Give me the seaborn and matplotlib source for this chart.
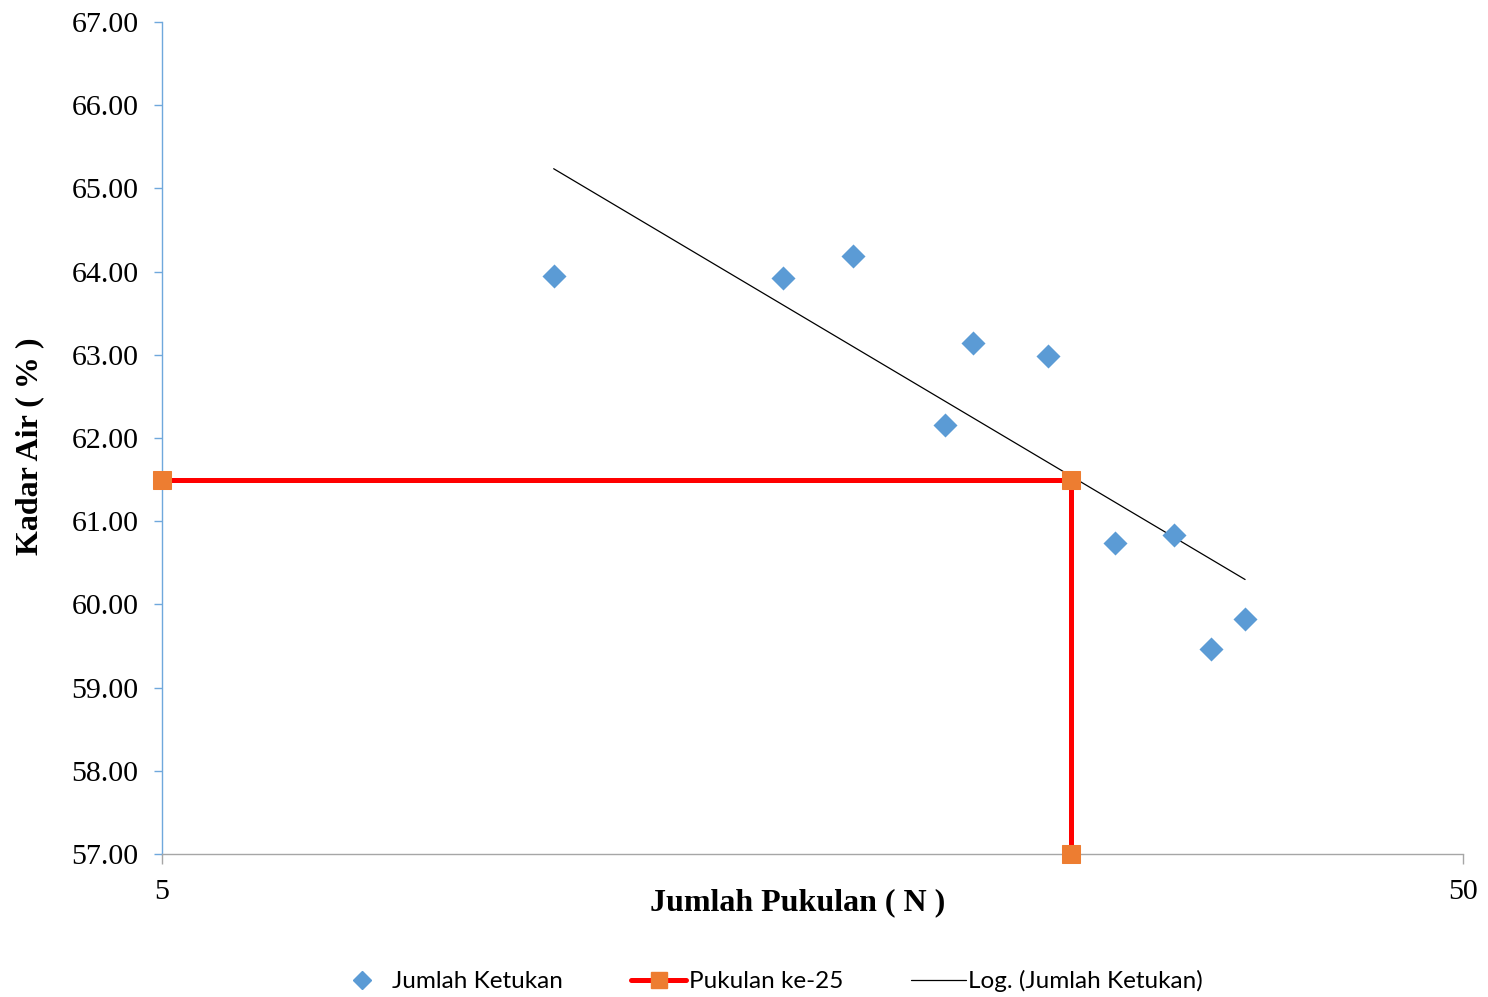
import numpy as np
import pandas as pd
import matplotlib
matplotlib.use("Agg")
import matplotlib.pyplot as plt
from matplotlib.lines import Line2D
from matplotlib.ticker import FixedLocator, FixedFormatter, NullLocator
import seaborn as sns

# Liquid limit test: blow count vs. water content
blows = [10, 15, 17, 20, 21, 24, 27, 30, 32, 34]
water_content = [63.95, 63.92, 64.19, 62.16, 63.14, 62.99, 60.74, 60.83, 59.46, 59.82]

# Reading at the 25th blow
ref_x = [5, 25, 25]
ref_y = [61.50, 61.50, 57.00]

y_ticks = [57, 58, 59, 60, 61, 62, 63, 64, 65, 66, 67]
x_ticks = [5, 50]

sns.set_theme(style="white")
plt.rcParams["font.family"] = ["Liberation Serif", "DejaVu Serif"]
plt.rcParams["text.color"] = "black"
plt.rcParams["axes.labelcolor"] = "black"

fig = plt.figure(figsize=(14.88, 9.97), dpi=100)
ax = fig.add_axes([0.1089, 0.1434, 0.8743, 0.8345])

df = pd.DataFrame({"N": blows, "w": water_content})

# logarithmic trend line: w = a*ln(N) + b
a, b = np.polyfit(np.log(df["N"]), df["w"], 1)
n_fit = np.linspace(min(blows), max(blows), 100)
fit = pd.DataFrame({"N": n_fit, "w": a * np.log(n_fit) + b})

sns.lineplot(data=fit, x="N", y="w", color="black", linewidth=0.9, ax=ax,
             zorder=3)

ref = pd.DataFrame({"N": ref_x, "w": ref_y})
sns.lineplot(data=ref, x="N", y="w", sort=False, estimator=None,
             color="#FF0000", linewidth=3.6,
             marker="s", markersize=13, markerfacecolor="#ED7D31",
             markeredgecolor="#ED7D31", ax=ax, zorder=4, clip_on=False)

sns.scatterplot(data=df, x="N", y="w", marker="D", s=150, color="#5B9BD5",
                edgecolor="#5B9BD5", linewidth=0, ax=ax, zorder=5)

ax.set_xscale("log")
ax.set_xlim(5, 50)
ax.set_ylim(57, 67)
ax.xaxis.set_major_locator(FixedLocator(x_ticks))
ax.xaxis.set_major_formatter(FixedFormatter([str(t) for t in x_ticks]))
ax.xaxis.set_minor_locator(NullLocator())
ax.set_yticks(y_ticks)
ax.set_yticklabels([f"{t:.2f}" for t in y_ticks])

for side in ["top", "right"]:
    ax.spines[side].set_visible(False)
ax.spines["left"].set_color("#6FA8DC")
ax.spines["left"].set_linewidth(1.0)
ax.spines["bottom"].set_color("#A6A6A6")
ax.spines["bottom"].set_linewidth(1.0)

ax.tick_params(axis="y", which="major", left=True, length=6, width=1.0,
               color="#6FA8DC", pad=11, labelsize=21.5, labelcolor="black")
ax.tick_params(axis="x", which="major", bottom=True, length=7, width=1.0,
               color="#A6A6A6", pad=11, labelsize=21.5, labelcolor="black")

ax.set_xlabel("Jumlah Pukulan ( N )", fontsize=23, fontweight="bold", color="black")
ax.set_ylabel("Kadar Air ( % )", fontsize=23, fontweight="bold", color="black")
ax.xaxis.set_label_coords(0.4889, -0.041)
ax.yaxis.set_label_coords(-0.0902, 0.4904)

handles = [
    Line2D([], [], linestyle="none", marker="D", markersize=9,
           color="#5B9BD5"),
    Line2D([], [], color="#FF0000", linewidth=3.6, marker="s", markersize=12,
           markerfacecolor="#ED7D31", markeredgecolor="#ED7D31"),
    Line2D([], [], color="black", linewidth=0.9),
]
labels = ["Jumlah Ketukan", "Pukulan ke-25", "Log. (Jumlah Ketukan)"]
fig.legend(handles, labels, loc="center", bbox_to_anchor=(0.5168, 0.016),
           ncol=3, frameon=False, handlelength=2.26, handletextpad=0.1,
           columnspacing=2.8, labelcolor="black",
           prop={"family": ["Lato", "DejaVu Sans"], "size": 17.5})

fig.savefig("out.png", dpi=100)
